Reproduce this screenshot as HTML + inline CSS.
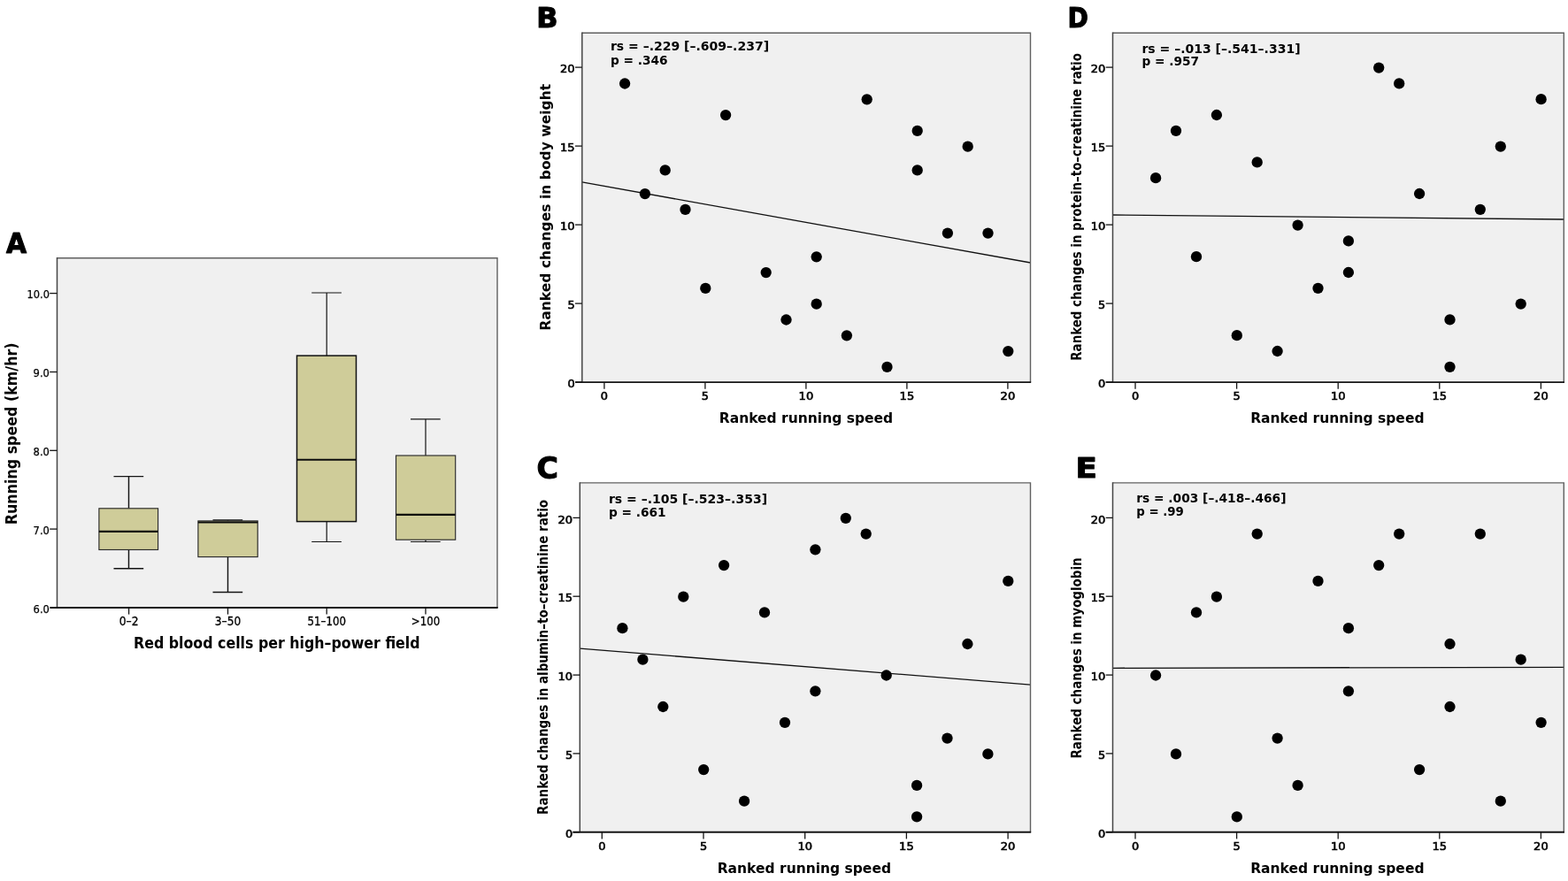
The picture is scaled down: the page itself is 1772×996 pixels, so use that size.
<!DOCTYPE html>
<html lang="en"><head><meta charset="utf-8"><title>Figure</title>
<style>html,body{margin:0;padding:0;background:#fff}svg{display:block}text{fill:#000}</style></head><body>
<svg width="1772" height="996" viewBox="0 0 1772 996" role="img" aria-label="Figure with panels A to E">
<rect width="1772" height="996" fill="#fff"/>
<rect x="64.5" y="291.7" width="497.5" height="395.3" fill="#f0f0f0"/>
<path d="M145.5 538.6V574.8M145.5 621.5V642.7M128.5 538.6H162.2M128.5 642.7H162.2" stroke="#141414" stroke-width="1.45" fill="none"/>
<rect x="111.9" y="574.8" width="66.7" height="46.7" fill="#cfcc99" stroke="#2a2a2a" stroke-width="1.15"/>
<path d="M111.9 600.9H178.6" stroke="#0c0c0c" stroke-width="2.1"/>
<path d="M257.5 587.9V588.9M257.5 629.6V669.4M240.5 587.9H274.2M240.5 669.4H274.2" stroke="#141414" stroke-width="1.45" fill="none"/>
<rect x="223.9" y="588.9" width="67.3" height="40.7" fill="#cfcc99" stroke="#2a2a2a" stroke-width="1.15"/>
<path d="M223.9 590.5H291.2" stroke="#0c0c0c" stroke-width="2.1"/>
<path d="M369.2 331.0V402.1M369.2 589.6V612.5M352.2 331.0H385.9M352.2 612.5H385.9" stroke="#141414" stroke-width="1.2" fill="none"/>
<rect x="335.5" y="402.1" width="67.0" height="187.5" fill="#cfcc99" stroke="#101010" stroke-width="1.5"/>
<path d="M335.5 519.8H402.5" stroke="#0c0c0c" stroke-width="2.1"/>
<path d="M481.0 473.8V515.0M481.0 610.2V612.5M464.0 473.8H497.7M464.0 612.5H497.7" stroke="#141414" stroke-width="1.2" fill="none"/>
<rect x="447.5" y="515.0" width="67.2" height="95.2" fill="#cfcc99" stroke="#2a2a2a" stroke-width="1.15"/>
<path d="M447.5 581.9H514.7" stroke="#0c0c0c" stroke-width="2.1"/>
<path d="M64.5 291.7H562.0V687.0" fill="none" stroke="#606060" stroke-width="1.4"/>
<path d="M64.5 291.09999999999997V687.0" fill="none" stroke="#454545" stroke-width="1.5"/>
<path d="M56.7 687.0H562.7" fill="none" stroke="#161616" stroke-width="1.9"/>
<path d="M56.2 687.0H64.5" stroke="#141414" stroke-width="1.3"/>
<text x="55.9" y="692.8" font-size="13.1" font-weight="normal" text-anchor="end" font-family='"DejaVu Sans Condensed", "DejaVu Sans", "Liberation Sans", sans-serif' textLength="18.3" lengthAdjust="spacingAndGlyphs" stroke="#000" stroke-width="0.25">6.0</text>
<path d="M56.2 598.1H64.5" stroke="#141414" stroke-width="1.3"/>
<text x="55.9" y="603.9" font-size="13.1" font-weight="normal" text-anchor="end" font-family='"DejaVu Sans Condensed", "DejaVu Sans", "Liberation Sans", sans-serif' textLength="18.3" lengthAdjust="spacingAndGlyphs" stroke="#000" stroke-width="0.25">7.0</text>
<path d="M56.2 509.3H64.5" stroke="#141414" stroke-width="1.3"/>
<text x="55.9" y="515.1" font-size="13.1" font-weight="normal" text-anchor="end" font-family='"DejaVu Sans Condensed", "DejaVu Sans", "Liberation Sans", sans-serif' textLength="18.3" lengthAdjust="spacingAndGlyphs" stroke="#000" stroke-width="0.25">8.0</text>
<path d="M56.2 420.5H64.5" stroke="#141414" stroke-width="1.3"/>
<text x="55.9" y="426.3" font-size="13.1" font-weight="normal" text-anchor="end" font-family='"DejaVu Sans Condensed", "DejaVu Sans", "Liberation Sans", sans-serif' textLength="18.3" lengthAdjust="spacingAndGlyphs" stroke="#000" stroke-width="0.25">9.0</text>
<path d="M56.2 331.6H64.5" stroke="#141414" stroke-width="1.3"/>
<text x="55.9" y="337.4" font-size="13.1" font-weight="normal" text-anchor="end" font-family='"DejaVu Sans Condensed", "DejaVu Sans", "Liberation Sans", sans-serif' textLength="25.3" lengthAdjust="spacingAndGlyphs" stroke="#000" stroke-width="0.25">10.0</text>
<path d="M145.6 687.0V694.6" stroke="#141414" stroke-width="1.3"/>
<text x="145.6" y="707.3" font-size="13.4" font-weight="normal" text-anchor="middle" font-family='"DejaVu Sans Condensed", "DejaVu Sans", "Liberation Sans", sans-serif' textLength="21.8" lengthAdjust="spacingAndGlyphs" stroke="#000" stroke-width="0.3">0–2</text>
<path d="M257.5 687.0V694.6" stroke="#141414" stroke-width="1.3"/>
<text x="257.5" y="707.3" font-size="13.4" font-weight="normal" text-anchor="middle" font-family='"DejaVu Sans Condensed", "DejaVu Sans", "Liberation Sans", sans-serif' textLength="29.3" lengthAdjust="spacingAndGlyphs" stroke="#000" stroke-width="0.3">3–50</text>
<path d="M369.2 687.0V694.6" stroke="#141414" stroke-width="1.3"/>
<text x="369.2" y="707.3" font-size="13.4" font-weight="normal" text-anchor="middle" font-family='"DejaVu Sans Condensed", "DejaVu Sans", "Liberation Sans", sans-serif' textLength="43.4" lengthAdjust="spacingAndGlyphs" stroke="#000" stroke-width="0.3">51–100</text>
<path d="M481.0 687.0V694.6" stroke="#141414" stroke-width="1.3"/>
<text x="481.0" y="707.3" font-size="13.4" font-weight="normal" text-anchor="middle" font-family='"DejaVu Sans Condensed", "DejaVu Sans", "Liberation Sans", sans-serif' textLength="32.3" lengthAdjust="spacingAndGlyphs" stroke="#000" stroke-width="0.3">&gt;100</text>
<text x="151.0" y="732.8" font-size="16.8" font-weight="bold" text-anchor="start" font-family='"DejaVu Sans", "Liberation Sans", sans-serif' textLength="323.6" lengthAdjust="spacingAndGlyphs">Red blood cells per high–power field</text>
<text x="18.7" y="593.2" font-size="17.2" font-weight="bold" text-anchor="start" font-family='"DejaVu Sans", "Liberation Sans", sans-serif' textLength="205.8" lengthAdjust="spacingAndGlyphs" transform="rotate(-90 18.7 593.2)">Running speed (km/hr)</text>
<text x="7.0" y="285.6" font-size="31.75" font-weight="bold" text-anchor="start" font-family='"DejaVu Sans", "Liberation Sans", sans-serif' textLength="23.1" lengthAdjust="spacingAndGlyphs" stroke="#000" stroke-width="1.1" stroke-linejoin="round">A</text>
<rect x="657.8" y="37.2" width="506.7" height="394.9" fill="#f0f0f0"/>
<path d="M657.8 205.9L1164.5 297.0" stroke="#111" stroke-width="1.3"/>
<circle cx="706.1" cy="94.5" r="6.15" fill="#000"/>
<circle cx="728.9" cy="219.1" r="6.15" fill="#000"/>
<circle cx="751.7" cy="192.4" r="6.15" fill="#000"/>
<circle cx="774.5" cy="236.9" r="6.15" fill="#000"/>
<circle cx="797.3" cy="325.9" r="6.15" fill="#000"/>
<circle cx="820.1" cy="130.1" r="6.15" fill="#000"/>
<circle cx="865.7" cy="308.1" r="6.15" fill="#000"/>
<circle cx="888.5" cy="361.5" r="6.15" fill="#000"/>
<circle cx="922.7" cy="290.3" r="6.15" fill="#000"/>
<circle cx="922.7" cy="343.7" r="6.15" fill="#000"/>
<circle cx="956.9" cy="379.3" r="6.15" fill="#000"/>
<circle cx="979.7" cy="112.3" r="6.15" fill="#000"/>
<circle cx="1002.5" cy="414.9" r="6.15" fill="#000"/>
<circle cx="1036.7" cy="147.9" r="6.15" fill="#000"/>
<circle cx="1036.7" cy="192.4" r="6.15" fill="#000"/>
<circle cx="1070.9" cy="263.6" r="6.15" fill="#000"/>
<circle cx="1093.7" cy="165.7" r="6.15" fill="#000"/>
<circle cx="1116.5" cy="263.6" r="6.15" fill="#000"/>
<circle cx="1139.3" cy="397.1" r="6.15" fill="#000"/>
<path d="M657.8 37.2H1164.5V432.1" fill="none" stroke="#606060" stroke-width="1.4"/>
<path d="M657.8 36.6V432.1" fill="none" stroke="#454545" stroke-width="1.5"/>
<path d="M650.0 432.1H1165.2" fill="none" stroke="#161616" stroke-width="1.9"/>
<path d="M650.0 432.1H657.8" stroke="#141414" stroke-width="1.3"/>
<text x="649.6" y="438.3" font-size="13.1" font-weight="normal" text-anchor="end" font-family='"DejaVu Sans Condensed", "DejaVu Sans", "Liberation Sans", sans-serif' textLength="8.2" lengthAdjust="spacingAndGlyphs" stroke="#000" stroke-width="0.6">0</text>
<path d="M682.9 432.1V439.7" stroke="#141414" stroke-width="1.3"/>
<text x="682.9" y="451.9" font-size="13.1" font-weight="normal" text-anchor="middle" font-family='"DejaVu Sans Condensed", "DejaVu Sans", "Liberation Sans", sans-serif' textLength="8.2" lengthAdjust="spacingAndGlyphs" stroke="#000" stroke-width="0.6">0</text>
<path d="M650.0 343.1H657.8" stroke="#141414" stroke-width="1.3"/>
<text x="649.6" y="349.3" font-size="13.1" font-weight="normal" text-anchor="end" font-family='"DejaVu Sans Condensed", "DejaVu Sans", "Liberation Sans", sans-serif' textLength="8.2" lengthAdjust="spacingAndGlyphs" stroke="#000" stroke-width="0.6">5</text>
<path d="M796.9 432.1V439.7" stroke="#141414" stroke-width="1.3"/>
<text x="796.9" y="451.9" font-size="13.1" font-weight="normal" text-anchor="middle" font-family='"DejaVu Sans Condensed", "DejaVu Sans", "Liberation Sans", sans-serif' textLength="8.2" lengthAdjust="spacingAndGlyphs" stroke="#000" stroke-width="0.6">5</text>
<path d="M650.0 254.1H657.8" stroke="#141414" stroke-width="1.3"/>
<text x="649.6" y="260.3" font-size="13.1" font-weight="normal" text-anchor="end" font-family='"DejaVu Sans Condensed", "DejaVu Sans", "Liberation Sans", sans-serif' textLength="16.6" lengthAdjust="spacingAndGlyphs" stroke="#000" stroke-width="0.6">10</text>
<path d="M910.9 432.1V439.7" stroke="#141414" stroke-width="1.3"/>
<text x="910.9" y="451.9" font-size="13.1" font-weight="normal" text-anchor="middle" font-family='"DejaVu Sans Condensed", "DejaVu Sans", "Liberation Sans", sans-serif' textLength="16.6" lengthAdjust="spacingAndGlyphs" stroke="#000" stroke-width="0.6">10</text>
<path d="M650.0 165.1H657.8" stroke="#141414" stroke-width="1.3"/>
<text x="649.6" y="171.3" font-size="13.1" font-weight="normal" text-anchor="end" font-family='"DejaVu Sans Condensed", "DejaVu Sans", "Liberation Sans", sans-serif' textLength="16.6" lengthAdjust="spacingAndGlyphs" stroke="#000" stroke-width="0.6">15</text>
<path d="M1024.9 432.1V439.7" stroke="#141414" stroke-width="1.3"/>
<text x="1024.9" y="451.9" font-size="13.1" font-weight="normal" text-anchor="middle" font-family='"DejaVu Sans Condensed", "DejaVu Sans", "Liberation Sans", sans-serif' textLength="16.6" lengthAdjust="spacingAndGlyphs" stroke="#000" stroke-width="0.6">15</text>
<path d="M650.0 76.1H657.8" stroke="#141414" stroke-width="1.3"/>
<text x="649.6" y="82.3" font-size="13.1" font-weight="normal" text-anchor="end" font-family='"DejaVu Sans Condensed", "DejaVu Sans", "Liberation Sans", sans-serif' textLength="16.6" lengthAdjust="spacingAndGlyphs" stroke="#000" stroke-width="0.6">20</text>
<path d="M1138.9 432.1V439.7" stroke="#141414" stroke-width="1.3"/>
<text x="1138.9" y="451.9" font-size="13.1" font-weight="normal" text-anchor="middle" font-family='"DejaVu Sans Condensed", "DejaVu Sans", "Liberation Sans", sans-serif' textLength="16.6" lengthAdjust="spacingAndGlyphs" stroke="#000" stroke-width="0.6">20</text>
<text x="689.9" y="57.3" font-size="14.8" font-weight="bold" text-anchor="start" font-family='"DejaVu Sans", "Liberation Sans", sans-serif' textLength="179.2" lengthAdjust="spacingAndGlyphs">rs = –.229 [–.609–.237]</text>
<text x="689.9" y="72.9" font-size="14.8" font-weight="bold" text-anchor="start" font-family='"DejaVu Sans", "Liberation Sans", sans-serif' textLength="64.8" lengthAdjust="spacingAndGlyphs">p = .346</text>
<text x="812.8" y="478.0" font-size="15.6" font-weight="bold" text-anchor="start" font-family='"DejaVu Sans", "Liberation Sans", sans-serif' textLength="196.3" lengthAdjust="spacingAndGlyphs">Ranked running speed</text>
<text x="621.7" y="373.8" font-size="16.4" font-weight="bold" text-anchor="start" font-family='"DejaVu Sans", "Liberation Sans", sans-serif' textLength="279.0" lengthAdjust="spacingAndGlyphs" transform="rotate(-90 621.7 373.8)">Ranked changes in body weight</text>
<text x="606.3" y="31.1" font-size="31.25" font-weight="bold" text-anchor="start" font-family='"DejaVu Sans", "Liberation Sans", sans-serif' textLength="24.29" lengthAdjust="spacingAndGlyphs" stroke="#000" stroke-width="1.1" stroke-linejoin="round">B</text>
<rect x="1257.5" y="37.2" width="509.8" height="394.9" fill="#f0f0f0"/>
<path d="M1257.5 243.0L1767.3 248.0" stroke="#111" stroke-width="1.3"/>
<circle cx="1306.1" cy="201.2" r="6.15" fill="#000"/>
<circle cx="1329.0" cy="147.8" r="6.15" fill="#000"/>
<circle cx="1352.0" cy="290.2" r="6.15" fill="#000"/>
<circle cx="1374.9" cy="130.0" r="6.15" fill="#000"/>
<circle cx="1397.8" cy="379.2" r="6.15" fill="#000"/>
<circle cx="1420.7" cy="183.4" r="6.15" fill="#000"/>
<circle cx="1443.6" cy="397.0" r="6.15" fill="#000"/>
<circle cx="1466.6" cy="254.6" r="6.15" fill="#000"/>
<circle cx="1489.5" cy="325.8" r="6.15" fill="#000"/>
<circle cx="1523.9" cy="272.4" r="6.15" fill="#000"/>
<circle cx="1523.9" cy="308.0" r="6.15" fill="#000"/>
<circle cx="1558.2" cy="76.6" r="6.15" fill="#000"/>
<circle cx="1581.2" cy="94.4" r="6.15" fill="#000"/>
<circle cx="1604.1" cy="219.0" r="6.15" fill="#000"/>
<circle cx="1638.5" cy="361.4" r="6.15" fill="#000"/>
<circle cx="1638.5" cy="414.8" r="6.15" fill="#000"/>
<circle cx="1672.8" cy="236.8" r="6.15" fill="#000"/>
<circle cx="1695.8" cy="165.6" r="6.15" fill="#000"/>
<circle cx="1718.7" cy="343.6" r="6.15" fill="#000"/>
<circle cx="1741.6" cy="112.2" r="6.15" fill="#000"/>
<path d="M1257.5 37.2H1767.3V432.1" fill="none" stroke="#606060" stroke-width="1.4"/>
<path d="M1257.5 36.6V432.1" fill="none" stroke="#454545" stroke-width="1.5"/>
<path d="M1249.7 432.1H1768.0" fill="none" stroke="#161616" stroke-width="1.9"/>
<path d="M1249.7 432.1H1257.5" stroke="#141414" stroke-width="1.3"/>
<text x="1249.3" y="438.3" font-size="13.1" font-weight="normal" text-anchor="end" font-family='"DejaVu Sans Condensed", "DejaVu Sans", "Liberation Sans", sans-serif' textLength="8.2" lengthAdjust="spacingAndGlyphs" stroke="#000" stroke-width="0.6">0</text>
<path d="M1283.0 432.1V439.7" stroke="#141414" stroke-width="1.3"/>
<text x="1283.0" y="451.9" font-size="13.1" font-weight="normal" text-anchor="middle" font-family='"DejaVu Sans Condensed", "DejaVu Sans", "Liberation Sans", sans-serif' textLength="8.2" lengthAdjust="spacingAndGlyphs" stroke="#000" stroke-width="0.6">0</text>
<path d="M1249.7 343.1H1257.5" stroke="#141414" stroke-width="1.3"/>
<text x="1249.3" y="349.3" font-size="13.1" font-weight="normal" text-anchor="end" font-family='"DejaVu Sans Condensed", "DejaVu Sans", "Liberation Sans", sans-serif' textLength="8.2" lengthAdjust="spacingAndGlyphs" stroke="#000" stroke-width="0.6">5</text>
<path d="M1397.6 432.1V439.7" stroke="#141414" stroke-width="1.3"/>
<text x="1397.6" y="451.9" font-size="13.1" font-weight="normal" text-anchor="middle" font-family='"DejaVu Sans Condensed", "DejaVu Sans", "Liberation Sans", sans-serif' textLength="8.2" lengthAdjust="spacingAndGlyphs" stroke="#000" stroke-width="0.6">5</text>
<path d="M1249.7 254.1H1257.5" stroke="#141414" stroke-width="1.3"/>
<text x="1249.3" y="260.3" font-size="13.1" font-weight="normal" text-anchor="end" font-family='"DejaVu Sans Condensed", "DejaVu Sans", "Liberation Sans", sans-serif' textLength="16.6" lengthAdjust="spacingAndGlyphs" stroke="#000" stroke-width="0.6">10</text>
<path d="M1512.2 432.1V439.7" stroke="#141414" stroke-width="1.3"/>
<text x="1512.2" y="451.9" font-size="13.1" font-weight="normal" text-anchor="middle" font-family='"DejaVu Sans Condensed", "DejaVu Sans", "Liberation Sans", sans-serif' textLength="16.6" lengthAdjust="spacingAndGlyphs" stroke="#000" stroke-width="0.6">10</text>
<path d="M1249.7 165.1H1257.5" stroke="#141414" stroke-width="1.3"/>
<text x="1249.3" y="171.3" font-size="13.1" font-weight="normal" text-anchor="end" font-family='"DejaVu Sans Condensed", "DejaVu Sans", "Liberation Sans", sans-serif' textLength="16.6" lengthAdjust="spacingAndGlyphs" stroke="#000" stroke-width="0.6">15</text>
<path d="M1626.8 432.1V439.7" stroke="#141414" stroke-width="1.3"/>
<text x="1626.8" y="451.9" font-size="13.1" font-weight="normal" text-anchor="middle" font-family='"DejaVu Sans Condensed", "DejaVu Sans", "Liberation Sans", sans-serif' textLength="16.6" lengthAdjust="spacingAndGlyphs" stroke="#000" stroke-width="0.6">15</text>
<path d="M1249.7 76.1H1257.5" stroke="#141414" stroke-width="1.3"/>
<text x="1249.3" y="82.3" font-size="13.1" font-weight="normal" text-anchor="end" font-family='"DejaVu Sans Condensed", "DejaVu Sans", "Liberation Sans", sans-serif' textLength="16.6" lengthAdjust="spacingAndGlyphs" stroke="#000" stroke-width="0.6">20</text>
<path d="M1741.4 432.1V439.7" stroke="#141414" stroke-width="1.3"/>
<text x="1741.4" y="451.9" font-size="13.1" font-weight="normal" text-anchor="middle" font-family='"DejaVu Sans Condensed", "DejaVu Sans", "Liberation Sans", sans-serif' textLength="16.6" lengthAdjust="spacingAndGlyphs" stroke="#000" stroke-width="0.6">20</text>
<text x="1290.4" y="59.5" font-size="14.8" font-weight="bold" text-anchor="start" font-family='"DejaVu Sans", "Liberation Sans", sans-serif' textLength="179.2" lengthAdjust="spacingAndGlyphs">rs = –.013 [–.541–.331]</text>
<text x="1290.4" y="74.1" font-size="14.8" font-weight="bold" text-anchor="start" font-family='"DejaVu Sans", "Liberation Sans", sans-serif' textLength="64.8" lengthAdjust="spacingAndGlyphs">p = .957</text>
<text x="1413.2" y="478.0" font-size="15.6" font-weight="bold" text-anchor="start" font-family='"DejaVu Sans", "Liberation Sans", sans-serif' textLength="196.3" lengthAdjust="spacingAndGlyphs">Ranked running speed</text>
<text x="1221.6" y="407.7" font-size="15.4" font-weight="bold" text-anchor="start" font-family='"DejaVu Sans", "Liberation Sans", sans-serif' textLength="347.6" lengthAdjust="spacingAndGlyphs" transform="rotate(-90 1221.6 407.7)">Ranked changes in protein–to–creatinine ratio</text>
<text x="1206.4" y="31.1" font-size="31.25" font-weight="bold" text-anchor="start" font-family='"DejaVu Sans", "Liberation Sans", sans-serif' textLength="23.4" lengthAdjust="spacingAndGlyphs" stroke="#000" stroke-width="1.1" stroke-linejoin="round">D</text>
<rect x="655.3" y="545.9" width="509.2" height="394.9" fill="#f0f0f0"/>
<path d="M655.3 733.2L1164.5 774.1" stroke="#111" stroke-width="1.3"/>
<circle cx="703.4" cy="710.2" r="6.15" fill="#000"/>
<circle cx="726.4" cy="745.7" r="6.15" fill="#000"/>
<circle cx="749.3" cy="799.0" r="6.15" fill="#000"/>
<circle cx="772.3" cy="674.7" r="6.15" fill="#000"/>
<circle cx="795.2" cy="870.1" r="6.15" fill="#000"/>
<circle cx="818.1" cy="639.1" r="6.15" fill="#000"/>
<circle cx="841.1" cy="905.7" r="6.15" fill="#000"/>
<circle cx="864.0" cy="692.4" r="6.15" fill="#000"/>
<circle cx="887.0" cy="816.8" r="6.15" fill="#000"/>
<circle cx="921.4" cy="621.3" r="6.15" fill="#000"/>
<circle cx="921.4" cy="781.3" r="6.15" fill="#000"/>
<circle cx="955.8" cy="585.8" r="6.15" fill="#000"/>
<circle cx="978.7" cy="603.6" r="6.15" fill="#000"/>
<circle cx="1001.7" cy="763.5" r="6.15" fill="#000"/>
<circle cx="1036.1" cy="887.9" r="6.15" fill="#000"/>
<circle cx="1036.1" cy="923.4" r="6.15" fill="#000"/>
<circle cx="1070.5" cy="834.6" r="6.15" fill="#000"/>
<circle cx="1093.4" cy="728.0" r="6.15" fill="#000"/>
<circle cx="1116.4" cy="852.4" r="6.15" fill="#000"/>
<circle cx="1139.3" cy="656.9" r="6.15" fill="#000"/>
<path d="M655.3 545.9H1164.5V940.8" fill="none" stroke="#606060" stroke-width="1.4"/>
<path d="M655.3 545.3V940.8" fill="none" stroke="#454545" stroke-width="1.5"/>
<path d="M647.5 940.8H1165.2" fill="none" stroke="#161616" stroke-width="1.9"/>
<path d="M647.5 940.8H655.3" stroke="#141414" stroke-width="1.3"/>
<text x="647.1" y="947.0" font-size="13.1" font-weight="normal" text-anchor="end" font-family='"DejaVu Sans Condensed", "DejaVu Sans", "Liberation Sans", sans-serif' textLength="8.2" lengthAdjust="spacingAndGlyphs" stroke="#000" stroke-width="0.6">0</text>
<path d="M680.3 940.8V948.4" stroke="#141414" stroke-width="1.3"/>
<text x="680.3" y="960.6" font-size="13.1" font-weight="normal" text-anchor="middle" font-family='"DejaVu Sans Condensed", "DejaVu Sans", "Liberation Sans", sans-serif' textLength="8.2" lengthAdjust="spacingAndGlyphs" stroke="#000" stroke-width="0.6">0</text>
<path d="M647.5 851.9H655.3" stroke="#141414" stroke-width="1.3"/>
<text x="647.1" y="858.1" font-size="13.1" font-weight="normal" text-anchor="end" font-family='"DejaVu Sans Condensed", "DejaVu Sans", "Liberation Sans", sans-serif' textLength="8.2" lengthAdjust="spacingAndGlyphs" stroke="#000" stroke-width="0.6">5</text>
<path d="M795.0 940.8V948.4" stroke="#141414" stroke-width="1.3"/>
<text x="795.0" y="960.6" font-size="13.1" font-weight="normal" text-anchor="middle" font-family='"DejaVu Sans Condensed", "DejaVu Sans", "Liberation Sans", sans-serif' textLength="8.2" lengthAdjust="spacingAndGlyphs" stroke="#000" stroke-width="0.6">5</text>
<path d="M647.5 763.1H655.3" stroke="#141414" stroke-width="1.3"/>
<text x="647.1" y="769.3" font-size="13.1" font-weight="normal" text-anchor="end" font-family='"DejaVu Sans Condensed", "DejaVu Sans", "Liberation Sans", sans-serif' textLength="16.6" lengthAdjust="spacingAndGlyphs" stroke="#000" stroke-width="0.6">10</text>
<path d="M909.7 940.8V948.4" stroke="#141414" stroke-width="1.3"/>
<text x="909.7" y="960.6" font-size="13.1" font-weight="normal" text-anchor="middle" font-family='"DejaVu Sans Condensed", "DejaVu Sans", "Liberation Sans", sans-serif' textLength="16.6" lengthAdjust="spacingAndGlyphs" stroke="#000" stroke-width="0.6">10</text>
<path d="M647.5 674.2H655.3" stroke="#141414" stroke-width="1.3"/>
<text x="647.1" y="680.4" font-size="13.1" font-weight="normal" text-anchor="end" font-family='"DejaVu Sans Condensed", "DejaVu Sans", "Liberation Sans", sans-serif' textLength="16.6" lengthAdjust="spacingAndGlyphs" stroke="#000" stroke-width="0.6">15</text>
<path d="M1024.4 940.8V948.4" stroke="#141414" stroke-width="1.3"/>
<text x="1024.4" y="960.6" font-size="13.1" font-weight="normal" text-anchor="middle" font-family='"DejaVu Sans Condensed", "DejaVu Sans", "Liberation Sans", sans-serif' textLength="16.6" lengthAdjust="spacingAndGlyphs" stroke="#000" stroke-width="0.6">15</text>
<path d="M647.5 585.4H655.3" stroke="#141414" stroke-width="1.3"/>
<text x="647.1" y="591.6" font-size="13.1" font-weight="normal" text-anchor="end" font-family='"DejaVu Sans Condensed", "DejaVu Sans", "Liberation Sans", sans-serif' textLength="16.6" lengthAdjust="spacingAndGlyphs" stroke="#000" stroke-width="0.6">20</text>
<path d="M1139.1 940.8V948.4" stroke="#141414" stroke-width="1.3"/>
<text x="1139.1" y="960.6" font-size="13.1" font-weight="normal" text-anchor="middle" font-family='"DejaVu Sans Condensed", "DejaVu Sans", "Liberation Sans", sans-serif' textLength="16.6" lengthAdjust="spacingAndGlyphs" stroke="#000" stroke-width="0.6">20</text>
<text x="687.9" y="569.1" font-size="14.8" font-weight="bold" text-anchor="start" font-family='"DejaVu Sans", "Liberation Sans", sans-serif' textLength="179.2" lengthAdjust="spacingAndGlyphs">rs = –.105 [–.523–.353]</text>
<text x="687.9" y="584.4" font-size="14.8" font-weight="bold" text-anchor="start" font-family='"DejaVu Sans", "Liberation Sans", sans-serif' textLength="64.8" lengthAdjust="spacingAndGlyphs">p = .661</text>
<text x="810.7" y="987.0" font-size="15.6" font-weight="bold" text-anchor="start" font-family='"DejaVu Sans", "Liberation Sans", sans-serif' textLength="196.3" lengthAdjust="spacingAndGlyphs">Ranked running speed</text>
<text x="619.4" y="920.9" font-size="15.4" font-weight="bold" text-anchor="start" font-family='"DejaVu Sans", "Liberation Sans", sans-serif' textLength="356.0" lengthAdjust="spacingAndGlyphs" transform="rotate(-90 619.4 920.9)">Ranked changes in albumin–to–creatinine ratio</text>
<text x="606.4" y="541.35" font-size="32.8" font-weight="bold" text-anchor="start" font-family='"DejaVu Sans", "Liberation Sans", sans-serif' textLength="24.4" lengthAdjust="spacingAndGlyphs" stroke="#000" stroke-width="1.1" stroke-linejoin="round">C</text>
<rect x="1257.5" y="545.9" width="509.8" height="394.9" fill="#f0f0f0"/>
<path d="M1257.5 755.3L1767.3 754.3" stroke="#111" stroke-width="1.3"/>
<circle cx="1306.1" cy="763.5" r="6.15" fill="#000"/>
<circle cx="1329.0" cy="852.4" r="6.15" fill="#000"/>
<circle cx="1352.0" cy="692.4" r="6.15" fill="#000"/>
<circle cx="1374.9" cy="674.7" r="6.15" fill="#000"/>
<circle cx="1397.8" cy="923.4" r="6.15" fill="#000"/>
<circle cx="1420.7" cy="603.6" r="6.15" fill="#000"/>
<circle cx="1443.6" cy="834.6" r="6.15" fill="#000"/>
<circle cx="1466.6" cy="887.9" r="6.15" fill="#000"/>
<circle cx="1489.5" cy="656.9" r="6.15" fill="#000"/>
<circle cx="1523.9" cy="710.2" r="6.15" fill="#000"/>
<circle cx="1523.9" cy="781.3" r="6.15" fill="#000"/>
<circle cx="1558.2" cy="639.1" r="6.15" fill="#000"/>
<circle cx="1581.2" cy="603.6" r="6.15" fill="#000"/>
<circle cx="1604.1" cy="870.1" r="6.15" fill="#000"/>
<circle cx="1638.5" cy="728.0" r="6.15" fill="#000"/>
<circle cx="1638.5" cy="799.0" r="6.15" fill="#000"/>
<circle cx="1672.8" cy="603.6" r="6.15" fill="#000"/>
<circle cx="1695.8" cy="905.7" r="6.15" fill="#000"/>
<circle cx="1718.7" cy="745.7" r="6.15" fill="#000"/>
<circle cx="1741.6" cy="816.8" r="6.15" fill="#000"/>
<path d="M1257.5 545.9H1767.3V940.8" fill="none" stroke="#606060" stroke-width="1.4"/>
<path d="M1257.5 545.3V940.8" fill="none" stroke="#454545" stroke-width="1.5"/>
<path d="M1249.7 940.8H1768.0" fill="none" stroke="#161616" stroke-width="1.9"/>
<path d="M1249.7 940.8H1257.5" stroke="#141414" stroke-width="1.3"/>
<text x="1249.3" y="947.0" font-size="13.1" font-weight="normal" text-anchor="end" font-family='"DejaVu Sans Condensed", "DejaVu Sans", "Liberation Sans", sans-serif' textLength="8.2" lengthAdjust="spacingAndGlyphs" stroke="#000" stroke-width="0.6">0</text>
<path d="M1283.0 940.8V948.4" stroke="#141414" stroke-width="1.3"/>
<text x="1283.0" y="960.6" font-size="13.1" font-weight="normal" text-anchor="middle" font-family='"DejaVu Sans Condensed", "DejaVu Sans", "Liberation Sans", sans-serif' textLength="8.2" lengthAdjust="spacingAndGlyphs" stroke="#000" stroke-width="0.6">0</text>
<path d="M1249.7 851.9H1257.5" stroke="#141414" stroke-width="1.3"/>
<text x="1249.3" y="858.1" font-size="13.1" font-weight="normal" text-anchor="end" font-family='"DejaVu Sans Condensed", "DejaVu Sans", "Liberation Sans", sans-serif' textLength="8.2" lengthAdjust="spacingAndGlyphs" stroke="#000" stroke-width="0.6">5</text>
<path d="M1397.6 940.8V948.4" stroke="#141414" stroke-width="1.3"/>
<text x="1397.6" y="960.6" font-size="13.1" font-weight="normal" text-anchor="middle" font-family='"DejaVu Sans Condensed", "DejaVu Sans", "Liberation Sans", sans-serif' textLength="8.2" lengthAdjust="spacingAndGlyphs" stroke="#000" stroke-width="0.6">5</text>
<path d="M1249.7 763.1H1257.5" stroke="#141414" stroke-width="1.3"/>
<text x="1249.3" y="769.3" font-size="13.1" font-weight="normal" text-anchor="end" font-family='"DejaVu Sans Condensed", "DejaVu Sans", "Liberation Sans", sans-serif' textLength="16.6" lengthAdjust="spacingAndGlyphs" stroke="#000" stroke-width="0.6">10</text>
<path d="M1512.2 940.8V948.4" stroke="#141414" stroke-width="1.3"/>
<text x="1512.2" y="960.6" font-size="13.1" font-weight="normal" text-anchor="middle" font-family='"DejaVu Sans Condensed", "DejaVu Sans", "Liberation Sans", sans-serif' textLength="16.6" lengthAdjust="spacingAndGlyphs" stroke="#000" stroke-width="0.6">10</text>
<path d="M1249.7 674.2H1257.5" stroke="#141414" stroke-width="1.3"/>
<text x="1249.3" y="680.4" font-size="13.1" font-weight="normal" text-anchor="end" font-family='"DejaVu Sans Condensed", "DejaVu Sans", "Liberation Sans", sans-serif' textLength="16.6" lengthAdjust="spacingAndGlyphs" stroke="#000" stroke-width="0.6">15</text>
<path d="M1626.8 940.8V948.4" stroke="#141414" stroke-width="1.3"/>
<text x="1626.8" y="960.6" font-size="13.1" font-weight="normal" text-anchor="middle" font-family='"DejaVu Sans Condensed", "DejaVu Sans", "Liberation Sans", sans-serif' textLength="16.6" lengthAdjust="spacingAndGlyphs" stroke="#000" stroke-width="0.6">15</text>
<path d="M1249.7 585.4H1257.5" stroke="#141414" stroke-width="1.3"/>
<text x="1249.3" y="591.6" font-size="13.1" font-weight="normal" text-anchor="end" font-family='"DejaVu Sans Condensed", "DejaVu Sans", "Liberation Sans", sans-serif' textLength="16.6" lengthAdjust="spacingAndGlyphs" stroke="#000" stroke-width="0.6">20</text>
<path d="M1741.4 940.8V948.4" stroke="#141414" stroke-width="1.3"/>
<text x="1741.4" y="960.6" font-size="13.1" font-weight="normal" text-anchor="middle" font-family='"DejaVu Sans Condensed", "DejaVu Sans", "Liberation Sans", sans-serif' textLength="16.6" lengthAdjust="spacingAndGlyphs" stroke="#000" stroke-width="0.6">20</text>
<text x="1284.2" y="568.4" font-size="14.8" font-weight="bold" text-anchor="start" font-family='"DejaVu Sans", "Liberation Sans", sans-serif' textLength="169.3" lengthAdjust="spacingAndGlyphs">rs = .003 [–.418–.466]</text>
<text x="1284.2" y="583.2" font-size="14.8" font-weight="bold" text-anchor="start" font-family='"DejaVu Sans", "Liberation Sans", sans-serif' textLength="53.7" lengthAdjust="spacingAndGlyphs">p = .99</text>
<text x="1413.2" y="987.0" font-size="15.6" font-weight="bold" text-anchor="start" font-family='"DejaVu Sans", "Liberation Sans", sans-serif' textLength="196.3" lengthAdjust="spacingAndGlyphs">Ranked running speed</text>
<text x="1221.6" y="857.5" font-size="15.4" font-weight="bold" text-anchor="start" font-family='"DejaVu Sans", "Liberation Sans", sans-serif' textLength="227.2" lengthAdjust="spacingAndGlyphs" transform="rotate(-90 1221.6 857.5)">Ranked changes in myoglobin</text>
<text x="1215.6" y="539.8" font-size="31.75" font-weight="bold" text-anchor="start" font-family='"DejaVu Sans", "Liberation Sans", sans-serif' textLength="24.4" lengthAdjust="spacingAndGlyphs" stroke="#000" stroke-width="1.1" stroke-linejoin="round">E</text>
</svg></body></html>
